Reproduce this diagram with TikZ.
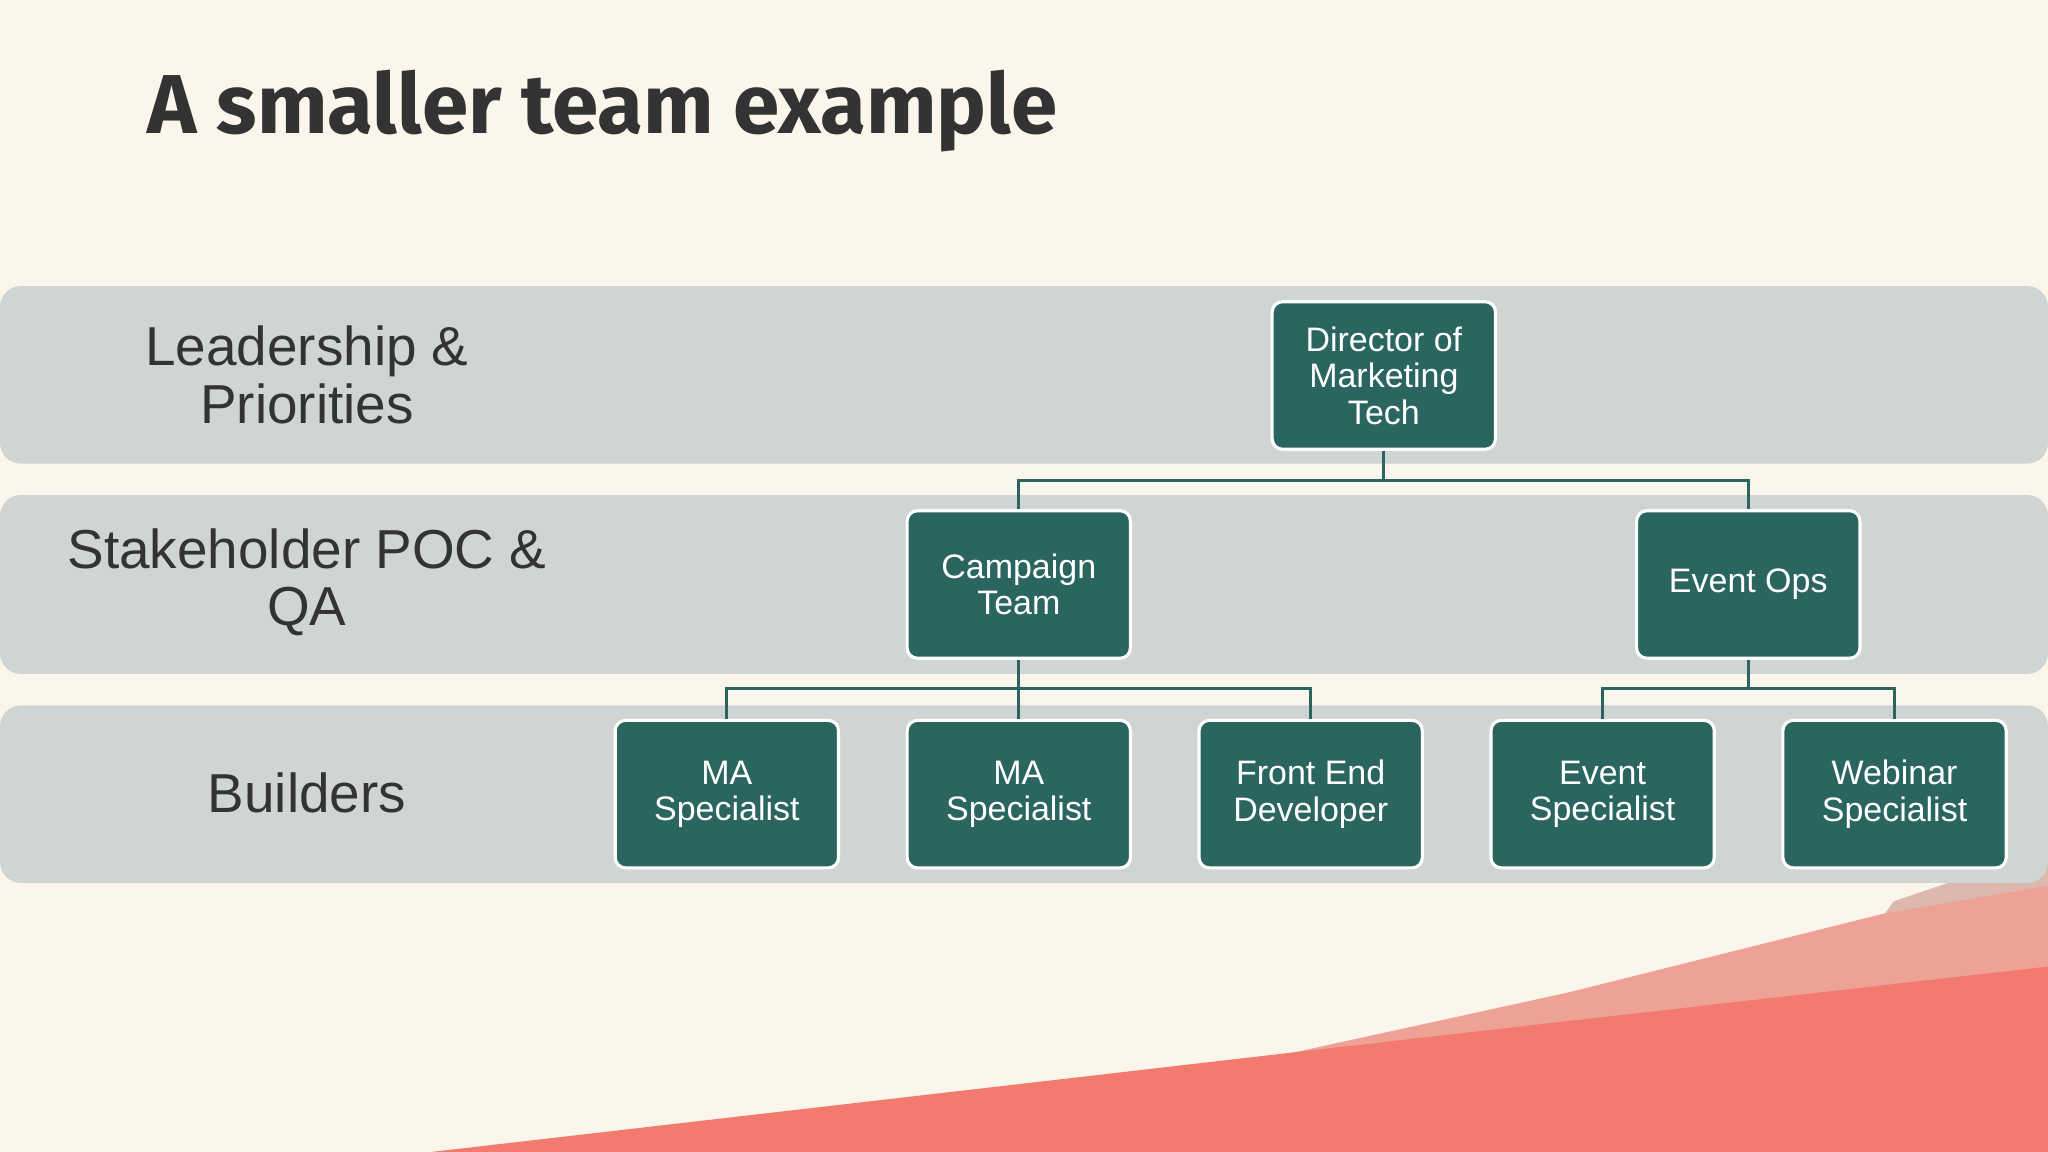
\documentclass[tikz,border=0pt]{standalone}
\usepackage{fontspec}
\setmainfont{Liberation Sans}
\newfontfamily\titlefont{Fira Sans}
\begin{document}
\begin{tikzpicture}[x=0.5pt,y=-0.5pt,
  band/.style={fill=bandc,draw=none,rounded corners=8pt},
  box/.style={fill=boxc,draw=white,line width=1.2pt,rounded corners=4pt,text=white,align=center,font=\fontsize{13}{14}\selectfont,minimum width=85.5pt,minimum height=56.5pt,inner sep=0pt},
  lab/.style={align=center,text=txtc,font=\fontsize{21}{22}\selectfont},
  conn/.style={draw=boxc,line width=1.2pt}]
\definecolor{bg}{HTML}{FBF6EC}
\definecolor{bandc}{HTML}{D0D5D4}
\definecolor{boxc}{HTML}{2A6560}
\definecolor{txtc}{HTML}{333333}
\definecolor{redc}{HTML}{F27A6E}
\definecolor{pinkc}{HTML}{EEA296}
\definecolor{greyp}{HTML}{DDB8AE}
\fill[bg] (0,0) rectangle (1568,882);
\useasboundingbox (0,0) rectangle (1568,882);
\fill[greyp] (1400,760) -- (1450,690) -- (1568,650) -- (1568,740) -- cycle;
\fill[pinkc] (880,830) -- (1200,760) -- (1440,700) -- (1568,678) -- (1568,745) -- (1040,800) -- cycle;
\fill[redc] (330,882) -- (1040,800) -- (1568,740) -- (1568,882) -- cycle;
\node[anchor=base west,text=txtc,font=\titlefont\bfseries\fontsize{32}{34}\selectfont] (title) at (106,102) {A smaller team example};
\fill[band] (0,219) rectangle (1568,355);
\fill[band] (0,379) rectangle (1568,516);
\fill[band] (0,540) rectangle (1568,676);
\node[lab] (l1) at (235,287) {Leadership \&\\Priorities};
\node[lab] (l2) at (235,446) {Stakeholder POC \&\\QA};
\node[lab] (l3) at (235,607) {Builders};
\node[box] (dir) at (1059.5,287.5) {Director of\\Marketing\\Tech};
\node[box] (camp) at (780,447.5) {Campaign\\Team};
\node[box] (ops) at (1338.5,447.5) {Event Ops};
\node[box] (ma1) at (556.5,608) {MA\\Specialist};
\node[box] (ma2) at (780,608) {MA\\Specialist};
\node[box] (fe) at (1003.5,608) {Front End\\Developer};
\node[box] (ev) at (1227,608) {Event\\Specialist};
\node[box] (web) at (1450.5,608) {Webinar\\Specialist};
\draw[conn] (dir.south) |- (780,368) -- (camp.north);
\draw[conn] (dir.south) |- (1338.5,368) -- (ops.north);
\draw[conn] (camp.south) -- (ma2.north);
\draw[conn] (camp.south) |- (556.5,527) -- (ma1.north);
\draw[conn] (camp.south) |- (1003.5,527) -- (fe.north);
\draw[conn] (ops.south) |- (1227,527) -- (ev.north);
\draw[conn] (ops.south) |- (1450.5,527) -- (web.north);
\end{tikzpicture}
\end{document}
